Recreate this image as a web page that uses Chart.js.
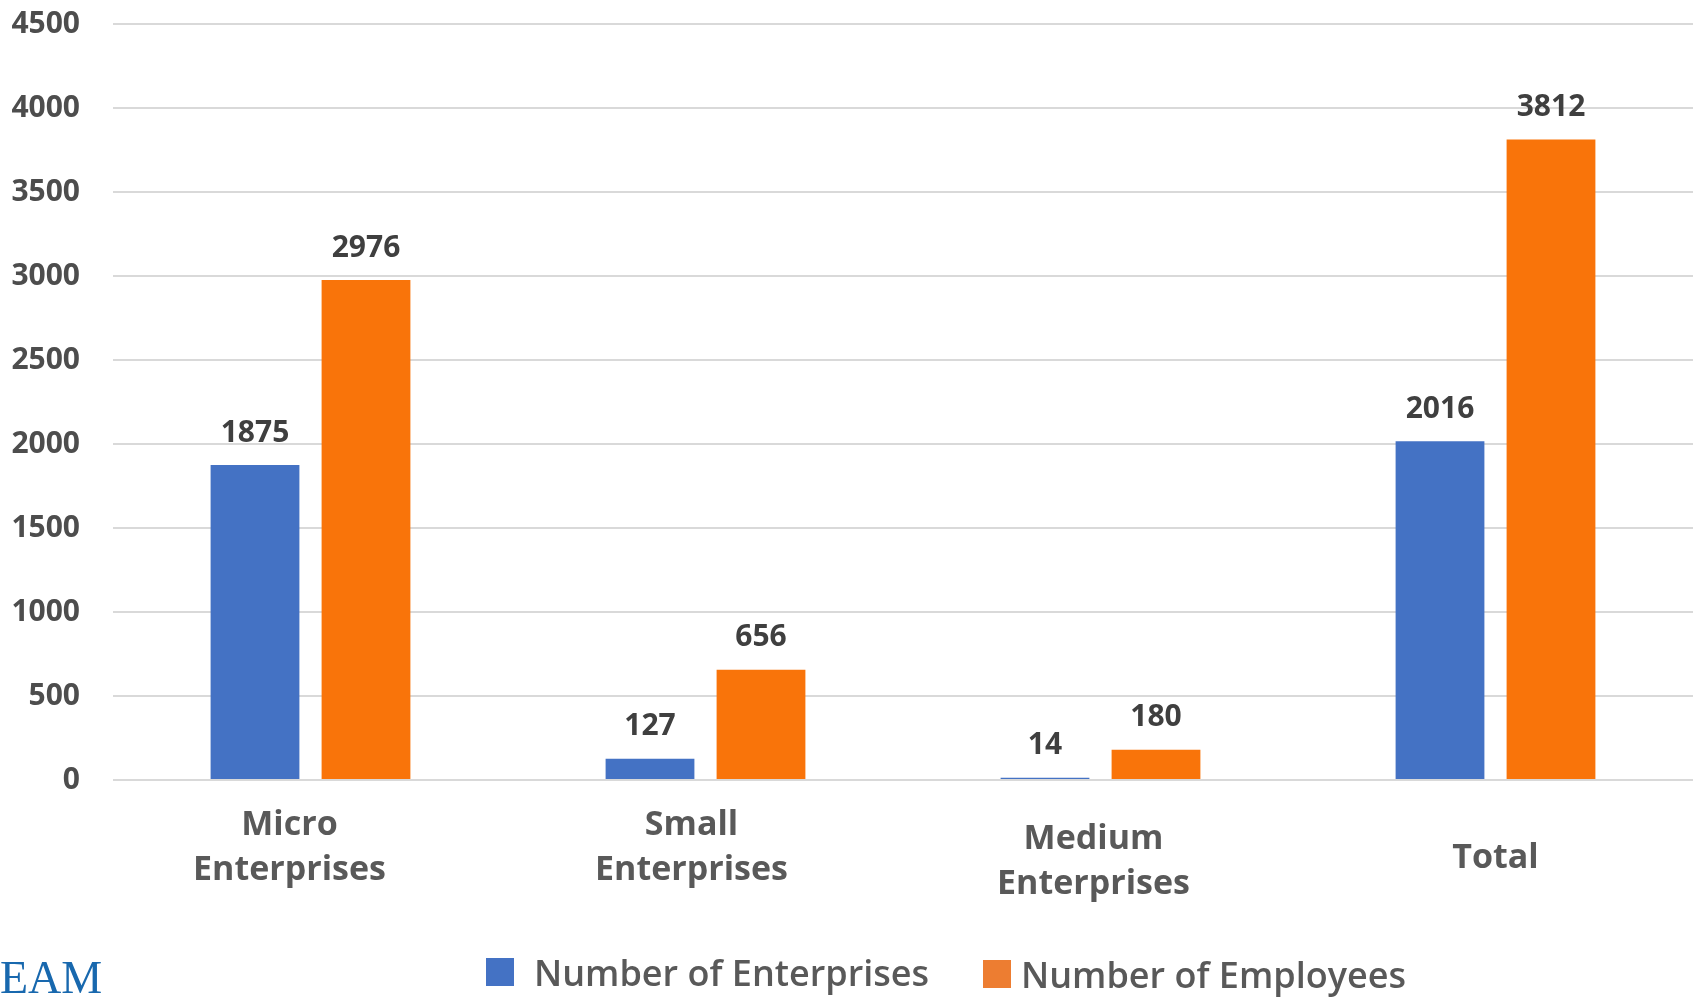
<!DOCTYPE html>
<html>
<head>
<meta charset="utf-8">
<script src="https://cdn.jsdelivr.net/npm/chart.js@4/dist/chart.umd.min.js"></script>
<style>
  html, body { margin: 0; padding: 0; background: #fff; }
  #wrap { width: 1696px; height: 999px; position: relative; }
</style>
</head>
<body>
<div id="wrap"><canvas id="chart" width="1696" height="999"></canvas></div>
<script>
// data
const categories = [["Micro", "Enterprises"], ["Small", "Enterprises"], ["Medium", "Enterprises"], ["Total"]];
const enterprises = [1875, 127, 14, 2016];
const employees = [2976, 656, 180, 3812];
const seriesNames = ["Number of Enterprises", "Number of Employees"];
const yTicks = [0, 500, 1000, 1500, 2000, 2500, 3000, 3500, 4000, 4500];

const barBlue = "#4472C4";
const barOrange = "#F9740A";
const legendColors = ["#4472C4", "#ED7D31"];

// value labels above each bar
const valueLabels = {
  id: "valueLabels",
  afterDatasetsDraw(chart) {
    const ctx = chart.ctx;
    ctx.save();
    ctx.font = "bold 30px 'Open Sans'";
    ctx.fillStyle = "#3F3F3F";
    ctx.textAlign = "center";
    ctx.textBaseline = "middle";
    chart.data.datasets.forEach((ds, i) => {
      chart.getDatasetMeta(i).data.forEach((bar, j) => {
        ctx.fillText(ds.data[j], bar.x, bar.y - 32);
      });
    });
    ctx.restore();
  }
};

// category labels, legend and the EAM mark
const extras = {
  id: "extras",
  afterDraw(chart, args, opts) {
    const ctx = chart.ctx;
    const xs = chart.scales.x;
    ctx.save();
    ctx.font = "bold 34px 'Open Sans'";
    ctx.fillStyle = "#595959";
    ctx.textAlign = "center";
    ctx.textBaseline = "middle";
    chart.data.labels.forEach((lab, i) => {
      const x = xs.getPixelForTick(i) + opts.dx[i];
      lab.forEach((line, k) => {
        ctx.fillText(line, x, opts.lineY[i] + k * 45);
      });
    });

    // legend
    ctx.font = "600 36px 'Open Sans'";
    ctx.textAlign = "left";
    chart.data.datasets.forEach((ds, i) => {
      const it = opts.legend[i];
      ctx.fillStyle = legendColors[i];
      ctx.fillRect(it.x, it.y, 28, 28);
      ctx.fillStyle = "#595959";
      ctx.fillText(ds.label, it.tx, it.y + 18);
    });

    ctx.font = "46px 'Liberation Serif'";
    ctx.fillStyle = "#1868AE";
    ctx.textBaseline = "alphabetic";
    ctx.fillText("EAM", 0, 993);
    ctx.restore();
  }
};

new Chart(document.getElementById("chart"), {
  type: "bar",
  data: {
    labels: categories,
    datasets: [
      { label: seriesNames[0], data: enterprises, backgroundColor: barBlue },
      { label: seriesNames[1], data: employees, backgroundColor: barOrange }
    ]
  },
  options: {
    responsive: false,
    animation: false,
    devicePixelRatio: 1,
    layout: { padding: { top: 24, right: 3, left: 0, bottom: 0 } },
    datasets: { bar: { barPercentage: 0.8, categoryPercentage: 0.562 } },
    plugins: {
      legend: { display: false },
      tooltip: { enabled: false },
      extras: {
        dx: [-21, -14, -7, 0],
        lineY: [825, 825, 839, 858],
        legend: [{ x: 486, y: 958, tx: 534 }, { x: 983, y: 960, tx: 1021 }]
      }
    },
    scales: {
      x: {
        grid: { display: false, drawTicks: false },
        border: { display: false },
        ticks: { display: false },
        afterFit(s) { s.height = 219; }
      },
      y: {
        min: 0,
        max: 4500,
        afterBuildTicks(s) { s.ticks = yTicks.map(v => ({ value: v })); },
        grid: { color: "#D9D9D9", lineWidth: 2, drawTicks: false },
        border: { display: false },
        ticks: {
          padding: 33,
          color: "#4D4D4D",
          font: { family: "'Open Sans'", size: 30, weight: "bold" },
          callback: v => String(v)
        },
        afterFit(s) { s.width = 113; s.paddingTop = 0; s.paddingBottom = 0; }
      }
    }
  },
  plugins: [valueLabels, extras]
});
</script>
</body>
</html>
